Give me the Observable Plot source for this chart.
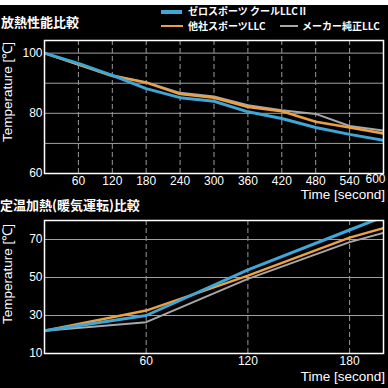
<!DOCTYPE html>
<html>
<head>
<meta charset="utf-8">
<script src="https://cdn.jsdelivr.net/npm/d3@7"></script>
<script src="https://cdn.jsdelivr.net/npm/@observablehq/plot@0.6"></script>
<style>
  html, body { margin: 0; padding: 0; background: #000; }
  #wrap { position: relative; width: 388px; height: 388px; background: #000; overflow: hidden; }
  #wrap svg { position: absolute; left: 0; }
  .lbl { position: absolute; color: #fff; white-space: nowrap; }
  .jp { font-family: "Noto Sans CJK JP", sans-serif; font-weight: 700; }
  .num { font-family: "Liberation Sans", Arial, sans-serif; font-size: 13.5px; }
  .sw { position: absolute; }
</style>
</head>
<body>
<div id="wrap"></div>
<script>
// ---- data ----
const seriesNames = ["ゼロスポーツ クールLLCⅡ", "他社スポーツLLC", "メーカー純正LLC"];
const seriesColors = ["#3fa6d8", "#eba143", "#a8a8a8"];

// 放熱性能比較 (cooling)
const timeTop = [0, 60, 120, 180, 240, 300, 360, 420, 480, 540, 600];
const zeroTop  = [100, 96.6, 92.6, 88.2, 85.2, 84.0, 80.5, 78.3, 75.3, 73.0, 71.0];
const otherTop = [100, 96.2, 92.4, 90.2, 86.4, 85.2, 82.1, 80.7, 77.2, 75.3, 73.3];
const oemTop   = [100, 96.2, 92.7, 90.3, 86.8, 85.6, 82.7, 81.0, 79.8, 75.8, 74.3];
const xTicksTop = [60, 120, 180, 240, 300, 360, 420, 480, 540];
const yTicksTop = [60, 80, 100];
const yGridTop = [70, 80, 90, 100];

// 定温加熱(暖気運転)比較 (warm-up)
const timeBot = [0, 60, 120, 180, 200];
const zeroBot  = [22, 30.0, 54.0, 75.0, 82.0];
const otherBot = [22, 32.6, 51.0, 71.0, 76.0];
const oemBot   = [22, 26.5, 49.3, 68.6, 73.5];
const xTicksBot = [60, 120, 180];
const yTicksBot = [10, 30, 50, 70];
const yGridBot = [30, 50, 70];

function series(times, vals, name) { return times.map((t, i) => ({t, v: vals[i], s: name})); }

const wrap = document.getElementById("wrap");
const plotStyle = {background: "transparent", color: "white", fontFamily: "'Liberation Sans', Arial, sans-serif", fontSize: "12px"};

function lineMarks(times, zero, other, oem) {
  return [
    Plot.line(series(times, oem, seriesNames[2]), {x: "t", y: "v", stroke: seriesColors[2], strokeWidth: 2, clip: true}),
    Plot.line(series(times, other, seriesNames[1]), {x: "t", y: "v", stroke: seriesColors[1], strokeWidth: 2.5, clip: true}),
    Plot.line(series(times, zero, seriesNames[0]), {x: "t", y: "v", stroke: seriesColors[0], strokeWidth: 3, clip: true})
  ];
}

const chartTop = Plot.plot({
  width: 388, height: 200,
  marginTop: 40, marginBottom: 27, marginLeft: 44, marginRight: 5,
  style: plotStyle,
  x: {domain: [0, 600]},
  y: {domain: [60, 104.2]},
  marks: [
    Plot.ruleY(yGridTop, {stroke: "#a0a0a0", strokeWidth: 1}),
    Plot.ruleX(xTicksTop, {stroke: "#9a9a9a", strokeWidth: 1, strokeDasharray: "5,3"}),
    ...lineMarks(timeTop, zeroTop, otherTop, oemTop),
    Plot.frame({stroke: "white", strokeWidth: 1.5}),
    Plot.axisX({ticks: xTicksTop, tickSize: 0, tickPadding: 3, label: null}),
    Plot.text([600], {x: d => d, frameAnchor: "bottom", dy: 9, dx: 2, textAnchor: "end", fill: "white"}),
    Plot.axisY({ticks: yTicksTop, tickSize: 0, tickPadding: 2, label: null})
  ]
});
chartTop.style.top = "0px";
wrap.appendChild(chartTop);

const chartBot = Plot.plot({
  width: 388, height: 188,
  marginTop: 20, marginBottom: 35, marginLeft: 44, marginRight: 5,
  style: plotStyle,
  x: {domain: [0, 200]},
  y: {domain: [10, 80]},
  marks: [
    Plot.ruleY(yGridBot, {stroke: "#a0a0a0", strokeWidth: 1}),
    Plot.ruleX(xTicksBot, {stroke: "#9a9a9a", strokeWidth: 1, strokeDasharray: "5,3"}),
    ...lineMarks(timeBot, zeroBot, otherBot, oemBot),
    Plot.frame({stroke: "white", strokeWidth: 1.5}),
    Plot.axisX({ticks: xTicksBot, tickSize: 0, tickPadding: 3, label: null}),
    Plot.axisY({ticks: yTicksBot, tickSize: 0, tickPadding: 2, label: null})
  ]
});
chartBot.style.top = "200px";
wrap.appendChild(chartBot);

// ---- HTML texts ----
function addText(txt, cls, css) {
  const d = document.createElement("div");
  d.className = "lbl " + cls;
  d.textContent = txt;
  Object.assign(d.style, css);
  wrap.appendChild(d);
  return d;
}
function addSwatch(css) {
  const d = document.createElement("div");
  d.className = "sw";
  Object.assign(d.style, css);
  wrap.appendChild(d);
}
// white band on top
addSwatch({left: "0px", top: "0px", width: "388px", height: "5px", background: "#fff"});

// titles
addText("放熱性能比較", "jp", {left: "1px", top: "21px", fontSize: "13px", lineHeight: "13px", transform: "translateY(-50%)"});
addText("定温加熱(暖気運転)比較", "jp", {left: "0px", top: "204px", fontSize: "13px", lineHeight: "13px", transform: "translateY(-50%)"});

// legend
addSwatch({left: "161px", top: "10px", width: "21px", height: "3.5px", background: seriesColors[0]});
addText(seriesNames[0], "jp", {left: "188px", top: "11px", fontSize: "10px", lineHeight: "10px", transform: "translateY(-50%)"});
addSwatch({left: "161px", top: "25px", width: "22px", height: "2px", background: seriesColors[1]});
addText(seriesNames[1], "jp", {left: "188px", top: "26px", fontSize: "10px", lineHeight: "10px", transform: "translateY(-50%)"});
addSwatch({left: "280px", top: "25px", width: "18px", height: "1.5px", background: seriesColors[2]});
addText(seriesNames[2], "jp", {left: "302px", top: "26px", fontSize: "10px", lineHeight: "10px", transform: "translateY(-50%)"});

// axis labels
addText("Temperature [℃]", "num", {left: "8px", top: "92px", lineHeight: "14px", transform: "translate(-50%,-50%) rotate(-90deg)"});
addText("Temperature [℃]", "num", {left: "8px", top: "274px", lineHeight: "14px", transform: "translate(-50%,-50%) rotate(-90deg)"});
addText("Time [second]", "num", {right: "3px", top: "195px", lineHeight: "14px", transform: "translateY(-50%)"});
addText("Time [second]", "num", {right: "3px", top: "377px", lineHeight: "14px", transform: "translateY(-50%)"});
</script>
</body>
</html>
